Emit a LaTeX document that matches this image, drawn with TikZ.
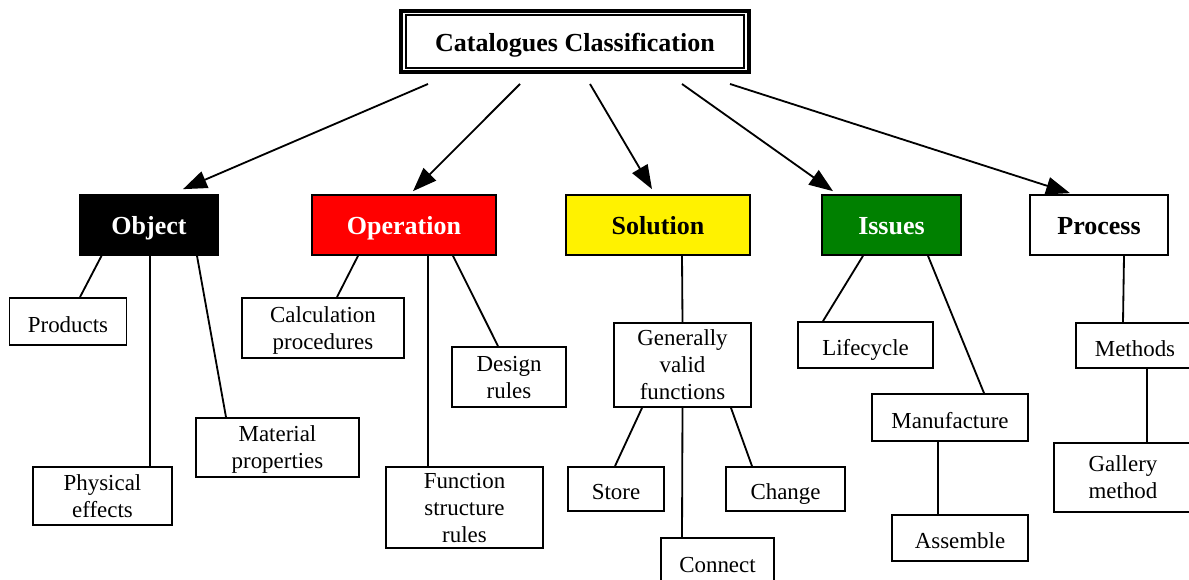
\documentclass[tikz,border=0pt]{standalone}
\usepackage{fontspec}
\setmainfont{Liberation Serif}
\usetikzlibrary{arrows.meta}

\definecolor{issuegreen}{RGB}{0,128,0}

\begin{document}
\begin{tikzpicture}[x=0.025cm, y=-0.025cm,
    catbox/.style={draw, line width=1.2pt, inner sep=0pt, minimum height=1.5cm,
      text height=14pt, text depth=0pt,
      font=\bfseries\fontsize{18.5}{22}\selectfont},
    subbox/.style={draw, line width=1.3pt, inner sep=0pt, align=center, text depth=-4pt,
      font=\fontsize{16.3}{19.2}\selectfont},
    onebox/.style={subbox, text height=15pt, text depth=0pt},
    link/.style={line width=1.3pt},
    arr/.style={line width=1.3pt, -{Triangle[length=17pt, width=12.5pt]}}]
    \useasboundingbox (0,0) rectangle (1189,579);

    % Title with double frame
    \node[catbox, line width=2.8pt, minimum width=8.7cm, minimum height=1.525cm] (title) at (575,41.5) {Catalogues Classification};
    \draw[line width=0.9pt] ([shift={(7,6)}]title.north west) rectangle ([shift={(-7,-6)}]title.south east);

    % Main categories
    \node[catbox, fill=black, text=white, minimum width=3.45cm] (obj) at (149,225) {Object};
    \node[catbox, fill=red, text=white, minimum width=4.6cm] (op) at (404,225) {Operation};
    \node[catbox, fill=yellow, minimum width=4.6cm] (sol) at (658,225) {Solution};
    \node[catbox, fill=issuegreen, text=white, minimum width=3.475cm] (iss) at (891.5,225) {Issues};
    \node[catbox, fill=white, minimum width=3.45cm] (proc) at (1099,225) {Process};

    % Arrows from the title
    \draw[arr] ([shift={(-147,10)}]title.south) -- ([shift={(34,-5)}]obj.north);
    \draw[arr] ([shift={(-55,10)}]title.south) -- ([shift={(9,-3)}]op.north);
    \draw[arr] ([shift={(15,10)}]title.south) -- ([shift={(-6,-5)}]sol.north);
    \draw[arr] ([shift={(107,10)}]title.south) -- ([shift={(-58.5,-3)}]iss.north);
    \draw[arr] ([shift={(155,10)}]title.south) -- ([shift={(-29,-1)}]proc.north);

    % Object
    \node[onebox, minimum width=2.925cm, minimum height=1.175cm] (prod) at (68,321.5) {Products};
    \node[subbox, minimum width=3.475cm, minimum height=1.45cm] (phys) at (102.5,496) {Physical\\effects};
    \node[subbox, minimum width=4.075cm, minimum height=1.475cm] (mat) at (277.5,447.5) {Material\\properties};
    \draw[link] ([shift={(-47.5,0)}]obj.south) -- ([shift={(12,0)}]prod.north);
    \draw[link] ([shift={(1,0)}]obj.south) -- ([shift={(47.5,0)}]phys.north);
    \draw[link] ([shift={(48,0)}]obj.south) -- ([shift={(-51.5,0)}]mat.north);

    % Operation
    \node[subbox, minimum width=4.05cm, minimum height=1.5cm] (calc) at (323,328) {Calculation\\procedures};
    \node[subbox, minimum width=2.85cm, minimum height=1.5cm] (des) at (509,377) {Design\\rules};
    \node[subbox, minimum width=3.925cm, minimum height=2.025cm] (fsr) at (464.5,507.5) {Function\\structure\\rules};
    \draw[link] ([shift={(-46,0)}]op.south) -- ([shift={(14,0)}]calc.north);
    \draw[link] ([shift={(24,0)}]op.south) -- ([shift={(-36.5,0)}]fsr.north);
    \draw[link] ([shift={(49,0)}]op.south) -- ([shift={(-11,0)}]des.north);

    % Solution
    \node[subbox, minimum width=3.425cm, minimum height=2.1cm] (gen) at (682.5,365) {Generally\\valid\\functions};
    \node[onebox, minimum width=2.4cm, minimum height=1.1cm] (store) at (616,489) {Store};
    \node[onebox, minimum width=2.975cm, minimum height=1.1cm] (chg) at (785.5,489) {Change};
    \node[onebox, minimum width=2.825cm, minimum height=1.2cm] (conn) at (717.5,562) {Connect};
    \draw[link] ([shift={(24,0)}]sol.south) -- (gen.north);
    \draw[link] ([shift={(-40.5,0)}]gen.south) -- ([shift={(-1,0)}]store.north);
    \draw[link] (gen.south) -- ([shift={(-35.5,0)}]conn.north);
    \draw[link] ([shift={(48.5,0)}]gen.south) -- ([shift={(-33.5,0)}]chg.north);

    % Issues
    \node[onebox, minimum width=3.375cm, minimum height=1.15cm] (life) at (865.5,345) {Lifecycle};
    \node[onebox, minimum width=3.9cm, minimum height=1.175cm] (manu) at (950,417.5) {Manufacture};
    \node[onebox, minimum width=3.4cm, minimum height=1.15cm] (asm) at (960,538) {Assemble};
    \draw[link] ([shift={(-28.5,0)}]iss.south) -- ([shift={(-42.5,0)}]life.north);
    \draw[link] ([shift={(36.5,0)}]iss.south) -- ([shift={(34,0)}]manu.north);
    \draw[link] ([shift={(-12,0)}]manu.south) -- ([shift={(-22,0)}]asm.north);

    % Process
    \node[onebox, minimum width=2.95cm, minimum height=1.125cm] (meth) at (1135,345.5) {Methods};
    \node[subbox, minimum width=3.45cm, minimum height=1.725cm] (gal) at (1123,477.5) {Gallery\\method};
    \draw[link] ([shift={(25,0)}]proc.south) -- ([shift={(-12,0)}]meth.north);
    \draw[link] ([shift={(12,0)}]meth.south) -- ([shift={(24,0)}]gal.north);
\end{tikzpicture}
\end{document}
